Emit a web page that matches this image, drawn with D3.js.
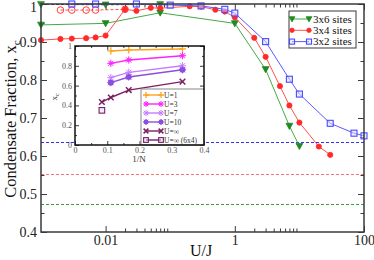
<!DOCTYPE html>
<html>
<head>
<meta charset="utf-8">
<script src="https://cdn.jsdelivr.net/npm/d3@7"></script>
<style>
body { margin: 0; background: #fff; }
svg { display: block; }
text { font-family: "Liberation Serif", "Times New Roman", serif; }
</style>
</head>
<body>
<div id="chart"></div>
<script>
// main plot data, [U/J, x_c]
const sites6 = [[0.001,0.945],[0.01,0.949],[0.07,0.977],[1,0.949],[3,0.828],[7,0.679],[10,0.626]];
const sites6Dash = [[0.001,0.999],[0.01,0.998],[0.07,0.999]];
const sites4 = [[0.001,0.905],[0.002,0.908],[0.003,0.909],[0.005,0.910],[0.007,0.912],[0.01,0.917],
    [0.02,0.986],[0.03,0.982],[0.05,0.990],[0.07,0.989],[0.2,0.994],[0.3,0.993],[0.5,0.985],[0.7,0.980],
    [1,0.965],[2,0.911],[3,0.861],[5,0.784],[7,0.733],[10,0.688],[20,0.625],[30,0.603]];
const sites4Dash = [[0.002,0.984],[0.003,0.984],[0.005,0.984],[0.007,0.984],[0.02,0.986]];
const sites2 = [[0.003,1.0],[0.007,1.0],[0.03,1.0],[0.1,0.997],[0.3,0.995],[0.7,0.986],[1,0.976],
    [3,0.901],[7,0.802],[10,0.763],[30,0.686],[70,0.660],[100,0.653]];
const refLines = [0.638, 0.553, 0.475]; // blue, red, green
const legendNames = ["3x6 sites", "3x4 sites", "3x2 sites"];
const xMajor = [0.01, 1, 100];
const xMinor = [0.02,0.03,0.04,0.05,0.06,0.07,0.08,0.09,2,3,4,5,6,7,8,9];
const yMajor = [0.4,0.5,0.6,0.7,0.8,0.9,1];
const yMinor = [0.45,0.55,0.65,0.75,0.85,0.95];

// inset data, [1/N, x_c]
const u1 = [[1/9,0.95],[1/6,0.96],[1/3,0.97]];
const u3 = [[1/9,0.825],[1/6,0.859],[1/3,0.902]];
const u7 = [[1/9,0.68],[1/6,0.734],[1/3,0.80]];
const u10 = [[1/9,0.63],[1/6,0.687],[1/3,0.76]];
const uInf = [[1/12,0.434],[1/9,0.48],[1/6,0.555],[1/3,0.64]];
const uInf64 = [[1/12,0.35]];
const insetNames = ["U=1", "U=3", "U=7", "U=10", "U=\u221e", "U=\u221e (6x4)"];
const insetXTicks = [0, 0.1, 0.2, 0.3, 0.4];
const insetXMinor = [0.05, 0.15, 0.25, 0.35];
const insetYTicks = [0, 0.2, 0.4, 0.6, 0.8, 1];
const insetYMinor = [0.1, 0.3, 0.5, 0.7, 0.9];

const W = 374, H = 260;
const svg = d3.select("#chart").append("svg").attr("width", W).attr("height", H);

const x = d3.scaleLog().domain([0.001, 100]).range([41, 364]);
const y = d3.scaleLinear().domain([0.4, 1]).range([232, 4]);

const frameColor = "#3a3a3a";

// draws one marker shape at (px, py)
let marker = (g, type, px, py, color, s) => {
    if(type == "tri") {
        g.append("path").attr("d", `M${px-s},${py-s*0.8}L${px+s},${py-s*0.8}L${px},${py+s}Z`)
            .attr("fill", color).attr("stroke", color).attr("stroke-width", 0.8);
    } else if(type == "dot") {
        g.append("circle").attr("cx", px).attr("cy", py).attr("r", s)
            .attr("fill", color).attr("stroke", color).attr("stroke-width", 0.8);
    } else if(type == "ocircle") {
        g.append("circle").attr("cx", px).attr("cy", py).attr("r", s)
            .attr("fill", "none").attr("stroke", color).attr("stroke-width", 1);
    } else if(type == "osquare") {
        g.append("rect").attr("x", px-s).attr("y", py-s).attr("width", 2*s).attr("height", 2*s)
            .attr("fill", "#dcdcff").attr("fill-opacity", 0.5).attr("stroke", color).attr("stroke-width", 1.1);
    } else if(type == "plus") {
        g.append("path").attr("d", `M${px-s},${py}H${px+s}M${px},${py-s}V${py+s}`)
            .attr("stroke", color).attr("stroke-width", 1.3);
    } else if(type == "cross") {
        g.append("path").attr("d", `M${px-s},${py-s}L${px+s},${py+s}M${px-s},${py+s}L${px+s},${py-s}`)
            .attr("stroke", color).attr("stroke-width", 1.5);
    } else if(type == "star" || type == "starfill" || type == "circstar") {
        if(type == "starfill") {
            g.append("circle").attr("cx", px).attr("cy", py).attr("r", s*0.6).attr("fill", color).attr("fill-opacity", 0.5);
        }
        if(type == "circstar") {
            g.append("circle").attr("cx", px).attr("cy", py).attr("r", s*0.8).attr("fill", color);
        }
        let d2 = s*0.72;
        g.append("path")
            .attr("d", `M${px-s},${py}H${px+s}M${px},${py-s}V${py+s}M${px-d2},${py-d2}L${px+d2},${py+d2}M${px-d2},${py+d2}L${px+d2},${py-d2}`)
            .attr("stroke", color).attr("stroke-width", 1);
    }
};

// axes, ticks pointing inward
let styleAxis = (sel, size) => {
    sel.select(".domain").remove();
    sel.selectAll(".tick line").attr("stroke", frameColor).attr("stroke-width", 1);
    sel.selectAll("text").attr("font-size", size).attr("fill", "#222")
        .attr("font-family", "Liberation Serif, serif");
};

svg.append("g").attr("transform", "translate(0,232)")
    .call(d3.axisBottom(x).tickValues(xMajor).tickFormat(d3.format("~g")).tickSize(-6).tickPadding(3))
    .call(styleAxis, 14);
svg.append("g").attr("transform", "translate(0,232)")
    .call(d3.axisBottom(x).tickValues(xMinor).tickFormat("").tickSize(-3.5))
    .call(styleAxis, 14);
svg.append("g").attr("transform", "translate(0,4)")
    .call(d3.axisTop(x).tickValues(xMajor).tickFormat("").tickSize(-6))
    .call(styleAxis, 14);
svg.append("g").attr("transform", "translate(0,4)")
    .call(d3.axisTop(x).tickValues(xMinor).tickFormat("").tickSize(-3.5))
    .call(styleAxis, 14);
let yax = svg.append("g").attr("transform", "translate(41,0)")
    .call(d3.axisLeft(y).tickValues(yMajor).tickFormat(d => d == 1 ? "1" : d3.format(".1f")(d)).tickSize(-6).tickPadding(4))
    .call(styleAxis, 14);
yax.selectAll("text").filter(d => d == 1).attr("dy", "0.5em");
svg.append("g").attr("transform", "translate(41,0)")
    .call(d3.axisLeft(y).tickValues(yMinor).tickFormat("").tickSize(-3.5))
    .call(styleAxis, 14);
svg.append("g").attr("transform", "translate(364,0)")
    .call(d3.axisRight(y).tickValues(yMajor).tickFormat("").tickSize(-6))
    .call(styleAxis, 14);
svg.append("g").attr("transform", "translate(364,0)")
    .call(d3.axisRight(y).tickValues(yMinor).tickFormat("").tickSize(-3.5))
    .call(styleAxis, 14);

// reference lines
const refColors = ["#3030ff", "#ff7070", "#3c9c3c"];
for(let i = 0; i < refLines.length; i++) {
    let ry = Math.round(y(refLines[i])) + 0.5;
    svg.append("line")
        .attr("x1", x.range()[0]).attr("x2", x.range()[1])
        .attr("y1", ry).attr("y2", ry)
        .attr("stroke", refColors[i]).attr("stroke-width", 1).attr("stroke-dasharray", "3,2");
}

// series
const line = d3.line().x(d => x(d[0])).y(d => y(d[1]));
let series = [
    {data: sites6Dash, color: "#2e8b2e", lineColor: "#3a3a3a", dash: "3,2", mark: "tri", size: 3.4},
    {data: sites4Dash, color: "#ff3a3a", lineColor: "#ff5050", dash: "3,2", mark: "ocircle", size: 3.3},
    {data: sites6, color: "#1f8a1f", lineColor: "#47a847", dash: null, mark: "tri", size: 3.4},
    {data: sites4, color: "#ff2a2a", lineColor: "#ff5050", dash: null, mark: "dot", size: 2.6},
    {data: sites2, color: "#4a4aff", lineColor: "#5a5aff", dash: null, mark: "osquare", size: 3}
];
series.forEach(s => {
    svg.append("path").datum(s.data).attr("d", line)
        .attr("fill", "none").attr("stroke", s.lineColor).attr("stroke-width", 1)
        .attr("stroke-dasharray", s.dash);
    let g = svg.append("g");
    s.data.forEach(d => marker(g, s.mark, x(d[0]), y(d[1]), s.color, s.size));
});

// frame
svg.append("rect").attr("x", 41).attr("y", 4).attr("width", 323).attr("height", 228)
    .attr("fill", "none").attr("stroke", frameColor).attr("stroke-width", 1.5);

// legend
const legendSeries = [series[2], series[3], series[4]];
let lg = svg.append("g");
lg.append("rect").attr("x", 289).attr("y", 11).attr("width", 67).attr("height", 37)
    .attr("fill", "#fff").attr("stroke", frameColor).attr("stroke-width", 1);
legendSeries.forEach((s, i) => {
    let ly = 19 + i * 11.3;
    lg.append("line").attr("x1", 292).attr("x2", 309).attr("y1", ly).attr("y2", ly)
        .attr("stroke", s.lineColor).attr("stroke-width", 1);
    marker(lg, s.mark, 292, ly, s.color, s.size * 0.85);
    marker(lg, s.mark, 309, ly, s.color, s.size * 0.85);
    lg.append("text").attr("x", 313).attr("y", ly + 3.8).attr("font-size", 11).attr("fill", "#111")
        .text(legendNames[i]);
});

// axis titles
svg.append("text").attr("transform", "translate(16,119) rotate(-90)")
    .attr("text-anchor", "middle").attr("font-size", 16.5).attr("fill", "#111")
    .text("Condensate Fraction, x")
    .append("tspan").attr("font-size", 11).attr("dy", 4).text("c");
svg.append("text").attr("x", 201).attr("y", 256).attr("text-anchor", "middle")
    .attr("font-size", 16).attr("fill", "#111").text("U/J");

// inset
const ix = d3.scaleLinear().domain([0, 0.4]).range([75, 204]);
const iy = d3.scaleLinear().domain([0, 1]).range([145, 46]);
let inset = svg.append("g");
inset.append("rect").attr("x", 75).attr("y", 46).attr("width", 129).attr("height", 99).attr("fill", "#fff");

inset.append("g").attr("transform", "translate(0,145)")
    .call(d3.axisBottom(ix).tickValues(insetXTicks).tickFormat(d3.format("~g")).tickSize(-4).tickPadding(2))
    .call(styleAxis, 8);
inset.append("g").attr("transform", "translate(0,145)")
    .call(d3.axisBottom(ix).tickValues(insetXMinor).tickFormat("").tickSize(-2))
    .call(styleAxis, 8);
inset.append("g").attr("transform", "translate(0,46)")
    .call(d3.axisTop(ix).tickValues(insetXTicks).tickFormat("").tickSize(-4))
    .call(styleAxis, 8);
inset.append("g").attr("transform", "translate(0,46)")
    .call(d3.axisTop(ix).tickValues(insetXMinor).tickFormat("").tickSize(-2))
    .call(styleAxis, 8);
inset.append("g").attr("transform", "translate(75,0)")
    .call(d3.axisLeft(iy).tickValues(insetYTicks).tickFormat(d3.format("~g")).tickSize(-4).tickPadding(3))
    .call(styleAxis, 8);
inset.append("g").attr("transform", "translate(75,0)")
    .call(d3.axisLeft(iy).tickValues(insetYMinor).tickFormat("").tickSize(-2))
    .call(styleAxis, 8);
inset.append("g").attr("transform", "translate(204,0)")
    .call(d3.axisRight(iy).tickValues(insetYTicks).tickFormat("").tickSize(-4))
    .call(styleAxis, 8);
inset.append("g").attr("transform", "translate(204,0)")
    .call(d3.axisRight(iy).tickValues(insetYMinor).tickFormat("").tickSize(-2))
    .call(styleAxis, 8);
inset.selectAll("text").attr("fill", "#555");

const iline = d3.line().x(d => ix(d[0])).y(d => iy(d[1]));
let insetSeries = [
    {data: u1, color: "#ffa31a", mark: "plus", size: 3.6},
    {data: u3, color: "#ff22ff", mark: "starfill", size: 3.6},
    {data: u7, color: "#c77dff", mark: "star", size: 3.6},
    {data: u10, color: "#8a4fe0", mark: "circstar", size: 3.6},
    {data: uInf, color: "#7a2060", mark: "cross", size: 2.8},
    {data: uInf64, color: "#7a2060", mark: "osquare", size: 2.8}
];
insetSeries.forEach(s => {
    inset.append("path").datum(s.data).attr("d", iline)
        .attr("fill", "none").attr("stroke", s.color).attr("stroke-width", 1.4);
    s.data.forEach(d => marker(inset, s.mark, ix(d[0]), iy(d[1]), s.color, s.size));
});

// inset legend
let ilg = inset.append("g");
ilg.append("rect").attr("x", 141).attr("y", 89).attr("width", 63).attr("height", 56)
    .attr("fill", "#fff").attr("stroke", "#888").attr("stroke-width", 1);
insetSeries.forEach((s, i) => {
    let ly = 95 + i * 9;
    ilg.append("line").attr("x1", 146).attr("x2", 161).attr("y1", ly).attr("y2", ly)
        .attr("stroke", s.color).attr("stroke-width", 1.4);
    marker(ilg, s.mark, 146, ly, s.color, s.size * 0.85);
    marker(ilg, s.mark, 161, ly, s.color, s.size * 0.85);
    ilg.append("text").attr("x", 164).attr("y", ly + 2.8).attr("font-size", 7.5).attr("fill", "#333")
        .text(insetNames[i]);
});

inset.append("rect").attr("x", 75).attr("y", 46).attr("width", 129).attr("height", 99)
    .attr("fill", "none").attr("stroke", "#111").attr("stroke-width", 1.5);

inset.append("text").attr("transform", "translate(57,97) rotate(-90)")
    .attr("text-anchor", "middle").attr("font-size", 9).attr("fill", "#333")
    .text("x").append("tspan").attr("font-size", 6).attr("dy", 2).text("c");
inset.append("text").attr("x", 139).attr("y", 162).attr("text-anchor", "middle")
    .attr("font-size", 9).attr("fill", "#333").text("1/N");
</script>
</body>
</html>
